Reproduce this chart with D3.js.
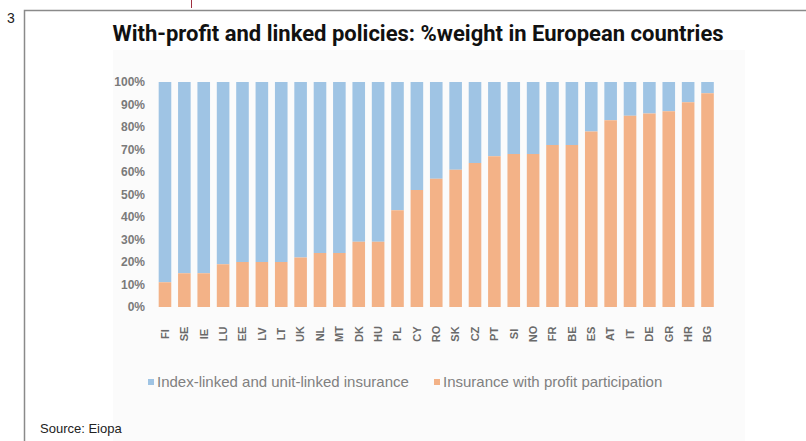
<!DOCTYPE html>
<html>
<head>
<meta charset="utf-8">
<script src="https://cdn.jsdelivr.net/npm/d3@7"></script>
<style>
	body { margin: 0; background: #fff; }
	svg { display: block; }
</style>
</head>
<body>
<div id="chartDiv"></div>
<script>
; (function () {

	var width = 806;
	var height = 441;

	var titleText = "With-profit and linked policies: %weight in European countries";
	var sourceText = "Source: Eiopa";
	var countries = ["FI", "SE", "IE", "LU", "EE", "LV", "LT", "UK", "NL", "MT",
		"DK", "HU", "PL", "CY", "RO", "SK", "CZ", "PT", "SI", "NO",
		"FR", "BE", "ES", "AT", "IT", "DE", "GR", "HR", "BG"];
	// share of insurance with profit participation (%), rest is linked
	var withProfit = [11, 15, 15, 19, 20, 20, 20, 22, 24, 24,
		29, 29, 43, 52, 57, 61, 64, 67, 68, 68,
		72, 72, 78, 83, 85, 86, 87, 91, 95];
	var seriesNames = ["Index-linked and unit-linked insurance", "Insurance with profit participation"];
	var yTicks = [0, 10, 20, 30, 40, 50, 60, 70, 80, 90, 100];

	var blue = "#9fc4e4";
	var orange = "#f3b287";

	var svg = d3.select("#chartDiv").append("svg")
		.attr("width", width)
		.attr("height", height);

	// frame
	svg.append("rect").attr("x", 113).attr("y", 50).attr("width", 632).attr("height", 391).attr("fill", "#fbfbfb");
	svg.append("path").attr("d", "M24.5,441 V10.5 H806").attr("fill", "none").attr("stroke", "#8a8a8a").attr("stroke-width", 1.5);
	svg.append("line").attr("x1", 191.5).attr("x2", 191.5).attr("y1", 0).attr("y2", 8).attr("stroke", "#a03040");
	svg.append("text").attr("x", 7).attr("y", 23).style("font-family", "Liberation Sans, Arial, sans-serif").style("font-size", "14px").attr("fill", "#222").text("3");

	svg.append("text")
		.attr("x", 418).attr("y", 41)
		.attr("text-anchor", "middle")
		.style("font-family", "Roboto, Arial, sans-serif")
		.style("font-weight", "bold")
		.style("font-size", "22px")
		.attr("fill", "#111")
		.text(titleText);

	var xScale = d3.scaleBand()
		.domain(countries)
		.range([151.9, 720.6])
		.padding(0.35);

	var yScale = d3.scaleLinear()
		.domain([0, 100])
		.range([307, 82]);

	var yAxis = d3.axisLeft(yScale)
		.tickValues(yTicks)
		.tickFormat(function (d) { return d + "%"; })
		.tickSize(0)
		.tickPadding(0);

	var yg = svg.append("g")
		.attr("transform", "translate(145,0)")
		.call(yAxis);
	yg.select(".domain").remove();
	yg.selectAll("text")
		.style("font-family", "Liberation Sans, Arial, sans-serif")
		.style("font-size", "12px")
		.style("font-weight", "bold")
		.attr("fill", "#7a7a7a");

	var bars = svg.append("g").selectAll("g")
		.data(countries)
		.enter().append("g");

	bars.append("rect")
		.attr("x", function (d) { return xScale(d); })
		.attr("width", xScale.bandwidth())
		.attr("y", yScale(100))
		.attr("height", function (d, i) { return yScale(withProfit[i]) - yScale(100); })
		.attr("fill", blue);

	bars.append("rect")
		.attr("x", function (d) { return xScale(d); })
		.attr("width", xScale.bandwidth())
		.attr("y", function (d, i) { return yScale(withProfit[i]); })
		.attr("height", function (d, i) { return yScale(0) - yScale(withProfit[i]); })
		.attr("fill", orange);

	var xAxis = d3.axisBottom(xScale).tickSize(0).tickPadding(0);
	var xg = svg.append("g")
		.attr("transform", "translate(0,320)")
		.call(xAxis);
	xg.select(".domain").remove();
	xg.selectAll("text")
		.attr("transform", "rotate(-90)")
		.attr("x", -14)
		.attr("y", 0)
		.attr("dy", "0.35em")
		.attr("text-anchor", "middle")
		.style("font-family", "Liberation Sans, Arial, sans-serif")
		.style("font-size", "11px")
		.style("font-weight", "bold")
		.attr("fill", "#6a6a6a");

	// legend
	var legendX = [148, 434];
	var legendColors = [blue, orange];
	var legend = svg.append("g").selectAll("g")
		.data(seriesNames)
		.enter().append("g")
		.attr("transform", function (d, i) { return "translate(" + legendX[i] + ",382)"; });
	legend.append("rect").attr("x", 0).attr("y", -3).attr("width", 6).attr("height", 6)
		.attr("fill", function (d, i) { return legendColors[i]; });
	legend.append("text").attr("x", 9).attr("y", 0).attr("dy", "0.35em")
		.style("font-family", "Liberation Sans, Arial, sans-serif")
		.style("font-size", "15px")
		.attr("fill", "#808080")
		.text(function (d) { return d; });

	svg.append("text")
		.attr("x", 40).attr("y", 433)
		.style("font-family", "Liberation Sans, Arial, sans-serif")
		.style("font-size", "13px")
		.attr("fill", "#222")
		.text(sourceText);

})();
</script>
</body>
</html>
